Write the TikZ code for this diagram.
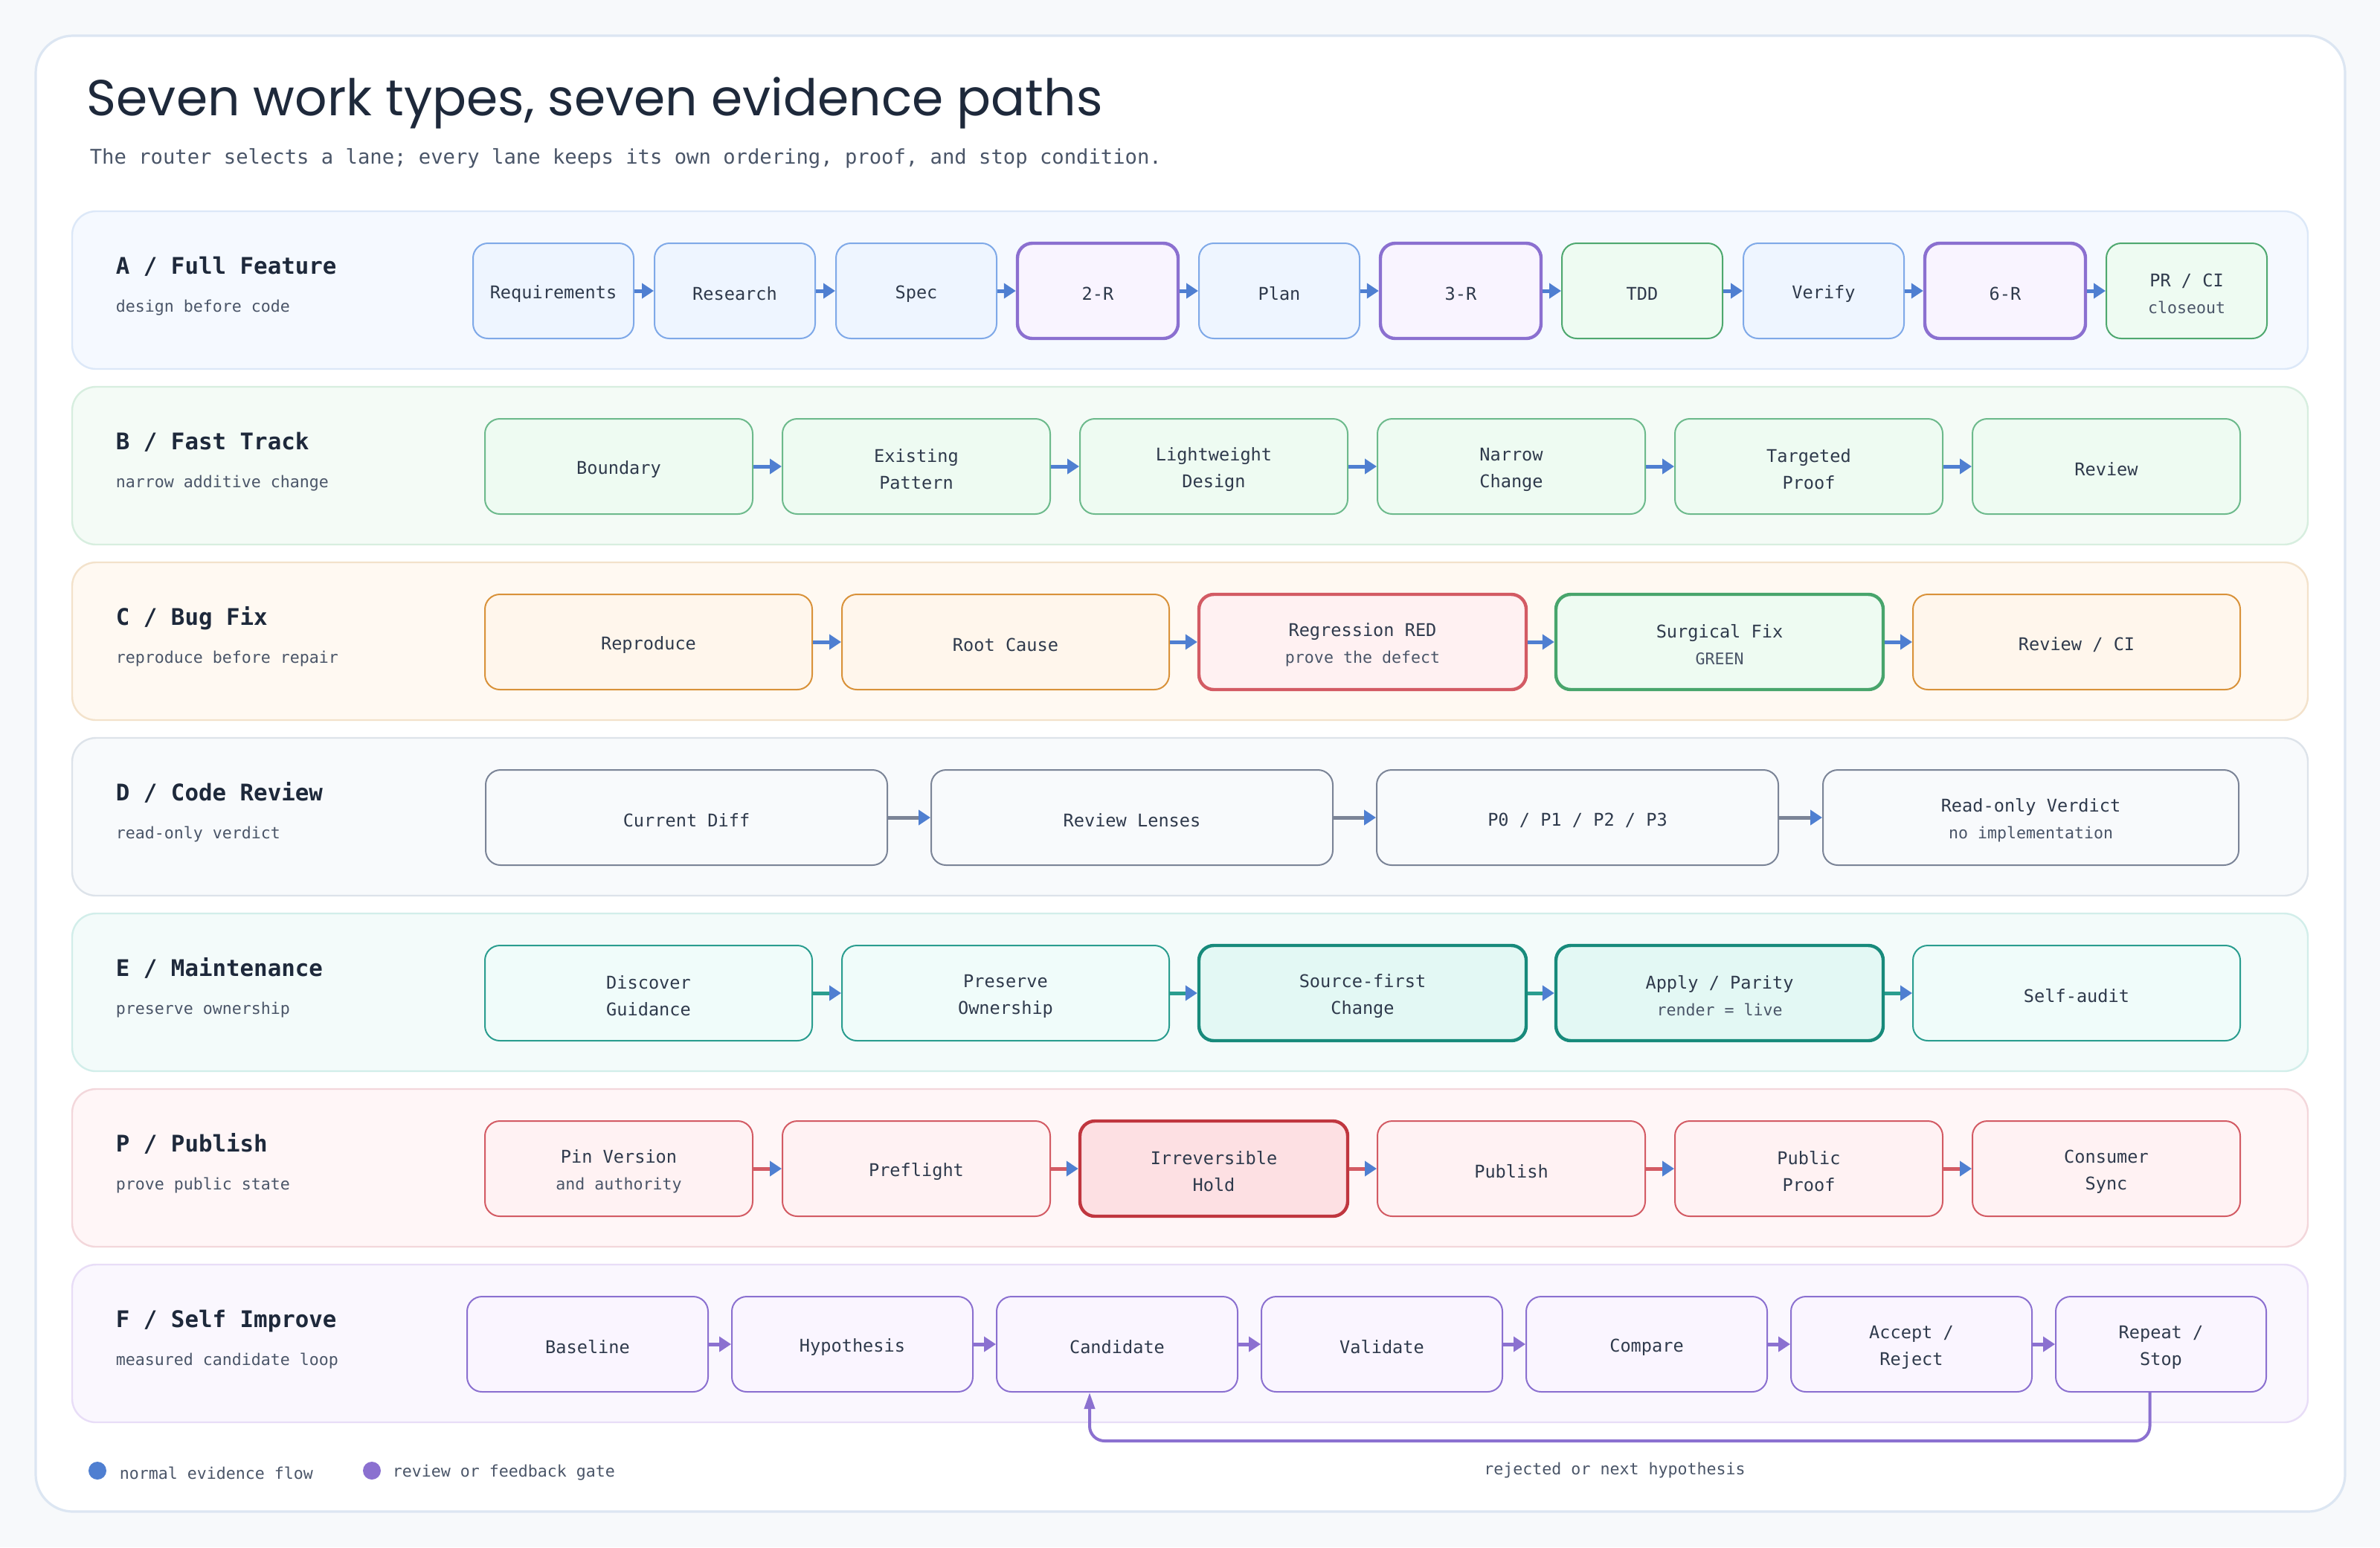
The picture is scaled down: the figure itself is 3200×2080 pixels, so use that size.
\documentclass[tikz,border=0pt]{standalone}
\usepackage{fontspec}
\setmonofont{DejaVu Sans Mono}
\newfontfamily\titlefont{Poppins}
\usetikzlibrary{arrows.meta,calc}

% palette
\definecolor{pagebg}{HTML}{F7F9FB}
\definecolor{cardline}{HTML}{DCE6F2}
\definecolor{titleink}{HTML}{1E293B}
\definecolor{ink}{HTML}{2F3A4C}
\definecolor{subink}{HTML}{4A5568}
\definecolor{flowblue}{HTML}{4F7FD1}
\definecolor{gatepurple}{HTML}{8B70D0}
% lane backgrounds
\definecolor{laneAfill}{HTML}{F5F9FF}\definecolor{laneAline}{HTML}{DCE8F8}
\definecolor{laneBfill}{HTML}{F4FBF6}\definecolor{laneBline}{HTML}{D7EEDF}
\definecolor{laneCfill}{HTML}{FFF9F2}\definecolor{laneCline}{HTML}{F3E2CB}
\definecolor{laneDfill}{HTML}{F8FAFC}\definecolor{laneDline}{HTML}{DDE3EA}
\definecolor{laneEfill}{HTML}{F3FBFA}\definecolor{laneEline}{HTML}{D2EEEA}
\definecolor{lanePfill}{HTML}{FFF6F7}\definecolor{lanePline}{HTML}{F3D7DB}
\definecolor{laneFfill}{HTML}{FAF7FE}\definecolor{laneFline}{HTML}{E8DDF7}
% step boxes
\definecolor{bluebd}{HTML}{7FA9E8}\definecolor{bluebg}{HTML}{EEF5FF}
\definecolor{purplebg}{HTML}{F9F4FF}
\definecolor{greenAbd}{HTML}{4EA86F}\definecolor{greenbg}{HTML}{EEFBF2}
\definecolor{greenBbd}{HTML}{6DBA8C}
\definecolor{orangebd}{HTML}{D9923A}\definecolor{orangebg}{HTML}{FFF6EC}
\definecolor{redbd}{HTML}{D35B64}\definecolor{redbg}{HTML}{FFF1F2}
\definecolor{surgbd}{HTML}{48A56C}
\definecolor{graybd}{HTML}{7B8497}\definecolor{graybg}{HTML}{F8FAFC}
\definecolor{tealbd}{HTML}{2A9D8F}\definecolor{tealbg}{HTML}{F0FCFA}
\definecolor{tealdk}{HTML}{178A7B}\definecolor{tealdkbg}{HTML}{E3F8F4}
\definecolor{holdbd}{HTML}{C0363F}\definecolor{holdbg}{HTML}{FDE0E3}
\definecolor{pubbg}{HTML}{FFF2F3}
\definecolor{selfbg}{HTML}{FAF5FF}

\newcommand\boxfont{\ttfamily\fontsize{5.9}{9}\selectfont}
\newcommand\subln[1]{{\fontsize{5.4}{9}\selectfont\color{subink}#1}}
% a step: framed box plus its centred caption
\newcommand\stepat[5]{%
  \node[#1] (#2) at (#3,#4) {};
  \node[steptext] (#2t) at ([yshift=-1pt]#2.center) {#5};}

\begin{document}
\begin{tikzpicture}[x=0.25pt,y=-0.25pt,
  lane/.style={rounded corners=8pt,line width=0.6pt},
  laneA/.style={lane,fill=laneAfill,draw=laneAline},
  laneB/.style={lane,fill=laneBfill,draw=laneBline},
  laneC/.style={lane,fill=laneCfill,draw=laneCline},
  laneD/.style={lane,fill=laneDfill,draw=laneDline},
  laneE/.style={lane,fill=laneEfill,draw=laneEline},
  laneP/.style={lane,fill=lanePfill,draw=lanePline},
  laneF/.style={lane,fill=laneFfill,draw=laneFline},
  lanetitle/.style={anchor=base west,inner sep=0pt,text=titleink,font=\ttfamily\bfseries\fontsize{7.7}{9}\selectfont},
  lanesub/.style={anchor=base west,inner sep=0pt,text=subink,font=\ttfamily\fontsize{5.4}{7}\selectfont},
  stepbox/.style={rounded corners=5pt,minimum height=32pt,inner sep=0pt,line width=0.5pt},
  steptext/.style={inner sep=0pt,align=center,font=\boxfont,text=ink},
  thickbox/.style={line width=1.1pt},
  wA/.style={minimum width=54pt},
  wB/.style={minimum width=90pt},
  wC/.style={minimum width=110pt},
  wF/.style={minimum width=81pt},
  sblue/.style={stepbox,wA,draw=bluebd,fill=bluebg},
  sgate/.style={stepbox,wA,thickbox,draw=gatepurple,fill=purplebg},
  sgreenA/.style={stepbox,wA,draw=greenAbd,fill=greenbg},
  sgreenB/.style={stepbox,wB,draw=greenBbd,fill=greenbg},
  sorange/.style={stepbox,wC,draw=orangebd,fill=orangebg},
  sred/.style={stepbox,wC,thickbox,draw=redbd,fill=redbg},
  ssurg/.style={stepbox,wC,thickbox,draw=surgbd,fill=greenbg},
  sgray/.style={stepbox,minimum width=135pt,draw=graybd,fill=graybg},
  sgraywide/.style={sgray,minimum width=139.75pt},
  steal/.style={stepbox,wC,draw=tealbd,fill=tealbg},
  stealdk/.style={stepbox,wC,thickbox,draw=tealdk,fill=tealdkbg},
  spub/.style={stepbox,wB,draw=redbd,fill=pubbg},
  shold/.style={stepbox,wB,thickbox,draw=holdbd,fill=holdbg},
  sself/.style={stepbox,wF,draw=gatepurple,fill=selfbg},
  sselfend/.style={sself,minimum width=70.75pt},
  tip/.style={-{Triangle[length=4pt,width=5pt,color=flowblue]}},
  flow/.style={line width=1.25pt,draw=flowblue,tip},
  flowgray/.style={line width=1.25pt,draw=graybd,tip},
  flowteal/.style={line width=1.25pt,draw=tealbd,tip},
  flowred/.style={line width=1.25pt,draw=redbd,tip},
  flowpurple/.style={line width=1.25pt,draw=gatepurple,-{Triangle[length=4pt,width=5pt]}},
  loopline/.style={line width=1pt,draw=gatepurple,rounded corners=5pt,-{Triangle[length=5.5pt,width=3.5pt]}},
  note/.style={inner sep=0pt,text=subink,font=\ttfamily\fontsize{5.4}{7}\selectfont}
]
\useasboundingbox (0,0) rectangle (3200,2080);
\fill[pagebg] (0,0) rectangle (3200,2080);

% card
\draw[fill=white,draw=cardline,line width=0.8pt,rounded corners=12.5pt] (48,48) rectangle (3153,2032);

% heading
\node[anchor=base west,inner sep=0pt,text=titleink,font=\titlefont\fontsize{17}{20}\selectfont] (title) at (116,155) {Seven work types, seven evidence paths};
\node[anchor=base west,inner sep=0pt,text=subink,font=\ttfamily\fontsize{6.8}{9}\selectfont] (subtitle) at (120,220) {The router selects a lane; every lane keeps its own ordering, proof, and stop condition.};

% lane backgrounds
\draw[laneA] (97,284) rectangle (3103,496);
\draw[laneB] (97,520) rectangle (3103,732);
\draw[laneC] (97,756) rectangle (3103,968);
\draw[laneD] (97,992) rectangle (3103,1204);
\draw[laneE] (97,1228) rectangle (3103,1440);
\draw[laneP] (97,1464) rectangle (3103,1676);
\draw[laneF] (97,1700) rectangle (3103,1912);

% lane labels
\node[lanetitle] (tA) at (155,368) {A / Full Feature};
\node[lanesub] (sA) at (155,419) {design before code};
\node[lanetitle] (tB) at (155,604) {B / Fast Track};
\node[lanesub] (sB) at (155,655) {narrow additive change};
\node[lanetitle] (tC) at (155,840) {C / Bug Fix};
\node[lanesub] (sC) at (155,891) {reproduce before repair};
\node[lanetitle] (tD) at (155,1076) {D / Code Review};
\node[lanesub] (sD) at (155,1127) {read-only verdict};
\node[lanetitle] (tE) at (155,1312) {E / Maintenance};
\node[lanesub] (sE) at (155,1363) {preserve ownership};
\node[lanetitle] (tP) at (155,1548) {P / Publish};
\node[lanesub] (sP) at (155,1599) {prove public state};
\node[lanetitle] (tF) at (155,1784) {F / Self Improve};
\node[lanesub] (sF) at (155,1835) {measured candidate loop};

% A / Full Feature
\stepat{sblue}{a1}{744}{391}{Requirements}
\stepat{sblue}{a2}{988}{391}{Research}
\stepat{sblue}{a3}{1232}{391}{Spec}
\stepat{sgate}{a4}{1476}{391}{2-R}
\stepat{sblue}{a5}{1720}{391}{Plan}
\stepat{sgate}{a6}{1964}{391}{3-R}
\stepat{sgreenA}{a7}{2208}{391}{TDD}
\stepat{sblue}{a8}{2452}{391}{Verify}
\stepat{sgate}{a9}{2696}{391}{6-R}
\stepat{sgreenA}{a10}{2940}{391}{PR / CI\\\subln{closeout}}
\foreach \p/\q in {a1/a2,a2/a3,a3/a4,a4/a5,a5/a6,a6/a7,a7/a8,a8/a9,a9/a10}
  \draw[flow] (\p) -- (\q);

% B / Fast Track
\stepat{sgreenB}{b1}{832}{627}{Boundary}
\stepat{sgreenB}{b2}{1232}{627}{Existing\\Pattern}
\stepat{sgreenB}{b3}{1632}{627}{Lightweight\\Design}
\stepat{sgreenB}{b4}{2032}{627}{Narrow\\Change}
\stepat{sgreenB}{b5}{2432}{627}{Targeted\\Proof}
\stepat{sgreenB}{b6}{2832}{627}{Review}
\foreach \p/\q in {b1/b2,b2/b3,b3/b4,b4/b5,b5/b6}
  \draw[flow] (\p) -- (\q);

% C / Bug Fix
\stepat{sorange}{c1}{872}{863}{Reproduce}
\stepat{sorange}{c2}{1352}{863}{Root Cause}
\stepat{sred}{c3}{1832}{863}{Regression RED\\\subln{prove the defect}}
\stepat{ssurg}{c4}{2312}{863}{Surgical Fix\\\subln{GREEN}}
\stepat{sorange}{c5}{2792}{863}{Review / CI}
\foreach \p/\q in {c1/c2,c2/c3,c3/c4,c4/c5}
  \draw[flow] (\p) -- (\q);

% D / Code Review
\stepat{sgray}{d1}{923}{1099}{Current Diff}
\stepat{sgray}{d2}{1522}{1099}{Review Lenses}
\stepat{sgray}{d3}{2121}{1099}{P0 / P1 / P2 / P3}
\stepat{sgraywide}{d4}{2730.5}{1099}{Read-only Verdict\\\subln{no implementation}}
\foreach \p/\q in {d1/d2,d2/d3,d3/d4}
  \draw[flowgray] (\p) -- (\q);

% E / Maintenance
\stepat{steal}{e1}{872}{1335}{Discover\\Guidance}
\stepat{steal}{e2}{1352}{1335}{Preserve\\Ownership}
\stepat{stealdk}{e3}{1832}{1335}{Source-first\\Change}
\stepat{stealdk}{e4}{2312}{1335}{Apply / Parity\\\subln{render = live}}
\stepat{steal}{e5}{2792}{1335}{Self-audit}
\foreach \p/\q in {e1/e2,e2/e3,e3/e4,e4/e5}
  \draw[flowteal] (\p) -- (\q);

% P / Publish
\stepat{spub}{p1}{832}{1571}{Pin Version\\\subln{and authority}}
\stepat{spub}{p2}{1232}{1571}{Preflight}
\stepat{shold}{p3}{1632}{1571}{Irreversible\\Hold}
\stepat{spub}{p4}{2032}{1571}{Publish}
\stepat{spub}{p5}{2432}{1571}{Public\\Proof}
\stepat{spub}{p6}{2832}{1571}{Consumer\\Sync}
\foreach \p/\q in {p1/p2,p2/p3,p3/p4,p4/p5,p5/p6}
  \draw[flowred] (\p) -- (\q);

% F / Self Improve
\stepat{sself}{f1}{790}{1807}{Baseline}
\stepat{sself}{f2}{1146}{1807}{Hypothesis}
\stepat{sself}{f3}{1502}{1807}{Candidate}
\stepat{sself}{f4}{1858}{1807}{Validate}
\stepat{sself}{f5}{2214}{1807}{Compare}
\stepat{sself}{f6}{2570}{1807}{Accept /\\Reject}
\stepat{sselfend}{f7}{2905.5}{1807}{Repeat /\\Stop}
\foreach \p/\q in {f1/f2,f2/f3,f3/f4,f4/f5,f5/f6,f6/f7}
  \draw[flowpurple] (\p) -- (\q);

% feedback loop back to the candidate step
\draw[loopline] ([xshift=-3.75pt]f7.south) -- ++(0,65) -| ([xshift=-9.25pt]f3.south);
\node[note,anchor=base] (looplabel) at (2171,1982) {rejected or next hypothesis};

% legend
\fill[flowblue] (131,1977) circle (3pt);
\node[note,anchor=west] (legflow) at (160,1980) {normal evidence flow};
\fill[gatepurple] (500,1977) circle (3pt);
\node[note,anchor=west] (leggate) at (527,1980) {review or feedback gate};
\end{tikzpicture}
\end{document}
